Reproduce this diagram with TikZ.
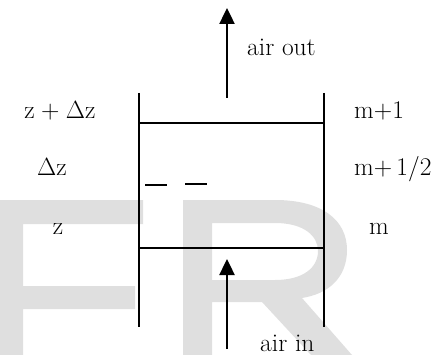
\documentclass[tikz,border=0pt]{standalone}
\usetikzlibrary{arrows.meta}
\begin{document}
\begin{tikzpicture}[x=1pt,y=-1pt,
  wall/.style={line width=2pt,black},
  flow/.style={line width=2.4pt,-{Triangle[width=15pt,length=16pt]}},
  lbl/.style={inner sep=0pt,font=\fontsize{25.5}{30}\selectfont,anchor=base},
  dashmark/.style={line width=2pt},
  wm/.style={fill=gray!25,draw=none}]
\useasboundingbox (0,0) rectangle (438,355);
% watermark letters
\fill[wm] (0,200) -- (143,200) -- (143,224) -- (23,224) -- (23,286) -- (135,286)
  -- (135,309) -- (23,309) -- (23,355) -- (0,355) -- cycle;
\fill[wm,even odd rule] (183,355) -- (183,200) -- (275,200)
  .. controls (322,200) and (347,220) .. (347,250)
  .. controls (347,278) and (328,294) .. (302,298) -- (352,355) -- (311,355)
  -- (262,302) -- (212,302) -- (212,355) -- cycle
  (212,223) -- (275,223) .. controls (304,223) and (318,236) .. (318,251)
  .. controls (318,267) and (304,280) .. (275,280) -- (212,280) -- cycle;
% box
\coordinate (lt) at (139,93);
\coordinate (lb) at (139,327);
\coordinate (rt) at (324,93);
\coordinate (rb) at (324,327);
\coordinate (ht1) at (139,123);
\coordinate (ht2) at (324,123);
\coordinate (hb1) at (139,248);
\coordinate (hb2) at (324,248);
\draw[wall] (lt) -- (lb);
\draw[wall] (rt) -- (rb);
\draw[wall] (ht1) -- (ht2);
\draw[wall] (hb1) -- (hb2);
% dashes
\coordinate (d1a) at (145,185);
\coordinate (d1b) at (167,185);
\coordinate (d2a) at (185,184);
\coordinate (d2b) at (207,184);
\draw[dashmark] (d1a) -- (d1b);
\draw[dashmark] (d2a) -- (d2b);
% arrows
\coordinate (outs) at (227,98);
\coordinate (oute) at (227,8);
\coordinate (ins) at (227,349);
\coordinate (ine) at (227,259);
\draw[flow] (outs) -- (oute);
\draw[flow] (ins) -- (ine);
% labels
\node[lbl,anchor=base west] (airout) at (247,56) {air out};
\node[lbl,anchor=base west] (airin) at (260,351) {air in};
\node[lbl] (ztop) at (60,119) {z\hspace{0.25em}+\hspace{0.25em}$\Delta$z};
\node[lbl] (dz) at (52,176) {$\Delta$z};
\node[lbl] (z) at (58,234) {z};
\node[lbl,anchor=base west] (m1) at (354,119) {m+1};
\node[lbl,anchor=base west] (mh) at (354,176) {m+\,1/2};
\node[lbl] (m) at (379,234) {m};
\end{tikzpicture}
\end{document}
